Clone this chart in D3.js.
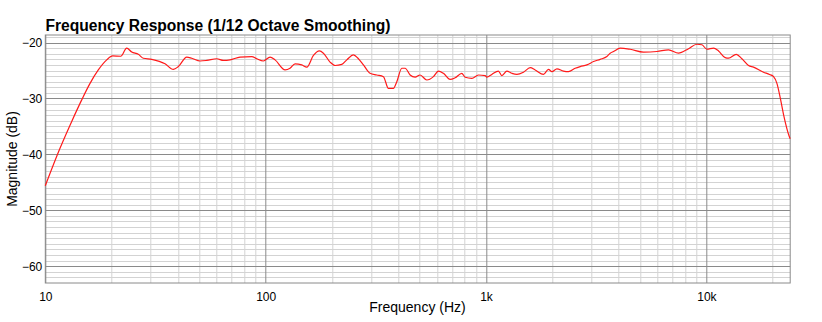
<!DOCTYPE html>
<html>
<head>
<meta charset="utf-8">
<script src="https://cdn.jsdelivr.net/npm/d3@7"></script>
<style>
  html, body { margin: 0; padding: 0; background: #fff; }
  svg { display: block; font-family: "Liberation Sans", Arial, Helvetica, sans-serif; }
</style>
</head>
<body>
<svg id="chart" width="822" height="322"></svg>
<script>
// ---- Data ----
const title = "Frequency Response (1/12 Octave Smoothing)";
const xLabel = "Frequency (Hz)";
const yLabel = "Magnitude (dB)";

const freqHz = [
  10, 11.66, 13.18, 14.63, 15.96, 17.4, 19.0, 20.22, 21.99, 23.42, 24.67, 26.43, 27.85, 30.41,
  34.95, 38.11, 40.15, 43.84, 46.18, 50.38, 54.03, 59.98, 64.27, 68.91, 76.52, 86.5, 91.1, 97.6,
  104.7, 110.3, 122.5, 129.0, 135.9, 145.8, 153.7, 164.7, 175.3, 182.8, 196.0, 206.5, 221.6,
  233.4, 250.1, 263.5, 277.7, 297.8, 319.4, 342.2, 360.6, 379.9, 393.6, 414.7, 429.3, 452.4,
  476.7, 502, 538.6, 577, 607.9, 640.7, 687, 724, 776, 804, 862, 924, 990.6, 1008, 1062, 1138,
  1179, 1243, 1310, 1380, 1479, 1586, 1671, 1822, 1920, 1990, 2097, 2246, 2366, 2538, 2675,
  2869, 3073, 3296, 3535, 3659, 3788, 4061, 4510, 5183, 5962, 6730, 7470, 8297, 9056, 9542,
  10050, 10770, 11350, 12170, 12600, 13660, 14490, 15530, 16360, 18160, 19340, 20170, 20890,
  21630, 22390, 23770, 24000
];
const magnitudeDb = [
  -45.6, -38.9, -34.1, -30.25, -27.3, -24.9, -23.1, -22.4, -22.45, -21.0, -21.7, -22.1, -22.8, -23.0,
  -23.8, -24.8, -24.3, -22.6, -22.8, -23.3, -23.2, -22.9, -23.2, -23.1, -22.6, -22.5, -22.9, -23.3,
  -22.6, -23.1, -24.9, -24.6, -23.8, -24.0, -24.4, -22.3, -21.5, -21.9, -23.5, -24.1, -23.9,
  -23.1, -22.2, -22.9, -24.0, -25.5, -25.8, -26.1, -28.2, -28.2, -27.0, -24.6, -24.6, -25.8,
  -26.2, -25.8, -26.7, -26.1, -25.1, -25.5, -26.6, -26.3, -25.5, -26.2, -26.4, -25.8, -25.9, -26.2, -25.7, -25.1,
  -25.9, -25.1, -25.5, -25.7, -25.3, -24.5, -24.9, -25.7, -24.8, -25.2, -24.7, -25.1, -25.2, -24.6, -24.3,
  -24.0, -23.4, -23.0, -22.5, -21.9, -21.6, -21.0, -21.2, -21.7, -21.6, -21.3, -21.9, -21.1, -20.3, -20.4,
  -21.2, -21.0, -21.5, -22.7, -22.8, -22.1, -22.9, -24.1, -24.4, -25.3, -25.7, -26.1, -27.3,
  -29.9, -32.9, -36.8, -37.2
];

const xTickValues = [10, 100, 1000, 10000];
const xTickLabels = ["10", "100", "1k", "10k"];
const yTickValues = [-60, -50, -40, -30, -20];
const xDomain = [10, 24000];
const yDomain = [-63, -18.65];

// ---- Layout ----
const svg = d3.select("#chart");
const margin = { left: 45.3, right: 822 - 790.2, top: 35, bottom: 322 - 283 };
const W = 822, H = 322;
const iw = W - margin.left - margin.right;
const ih = H - margin.top - margin.bottom;

const x = d3.scaleLog().domain(xDomain).range([0, iw]);
const y = d3.scaleLinear().domain(yDomain).range([ih, 0]);

const g = svg.append("g").attr("transform", `translate(${margin.left},${margin.top})`);

// minor grid values
const minorX = [];
for (let dec = 10; dec <= 10000; dec *= 10) {
  for (let m = 2; m <= 9; m++) {
    const v = dec * m;
    if (v < xDomain[1]) minorX.push(v);
  }
}
const minorY = d3.range(-62, -18, 1).filter(v => v % 10 !== 0);

// minor grid
g.append("g").attr("class", "minor-x")
  .selectAll("line").data(minorX).join("line")
  .attr("x1", d => Math.round(x(d)) + 0.5).attr("x2", d => Math.round(x(d)) + 0.5)
  .attr("y1", 0).attr("y2", ih)
  .attr("stroke", "#d3d3d3").attr("stroke-width", 1);
g.append("g").attr("class", "minor-y")
  .selectAll("line").data(minorY).join("line")
  .attr("x1", 0).attr("x2", iw)
  .attr("y1", d => Math.round(y(d)) + 0.5).attr("y2", d => Math.round(y(d)) + 0.5)
  .attr("stroke", "#d3d3d3").attr("stroke-width", 1);

// major grid
g.append("g").attr("class", "major-x")
  .selectAll("line").data(xTickValues).join("line")
  .attr("x1", d => Math.round(x(d)) + 0.5).attr("x2", d => Math.round(x(d)) + 0.5)
  .attr("y1", 0).attr("y2", ih)
  .attr("stroke", "#8a8a8a").attr("stroke-width", 1);
g.append("g").attr("class", "major-y")
  .selectAll("line").data(yTickValues).join("line")
  .attr("x1", 0).attr("x2", iw)
  .attr("y1", d => Math.round(y(d)) + 0.5).attr("y2", d => Math.round(y(d)) + 0.5)
  .attr("stroke", "#8a8a8a").attr("stroke-width", 1);

// frame
g.append("rect")
  .attr("x", 0).attr("y", 0).attr("width", iw).attr("height", ih)
  .attr("fill", "none").attr("stroke", "#8a8a8a").attr("stroke-width", 1);

// axes (labels only)
const xAxis = d3.axisBottom(x).tickValues(xTickValues)
  .tickFormat((d, i) => xTickLabels[i]).tickSize(0).tickPadding(9);
const gx = g.append("g").attr("transform", `translate(0,${ih})`).call(xAxis);
gx.select(".domain").remove();
gx.selectAll("text").attr("font-size", 12).attr("fill", "#000")
  .attr("font-family", "Liberation Sans, Arial, sans-serif");

const yAxis = d3.axisLeft(y).tickValues(yTickValues).tickSize(0).tickPadding(3)
  .tickFormat(d3.format("d"));
const gy = g.append("g").call(yAxis);
gy.select(".domain").remove();
gy.selectAll("text").attr("font-size", 12).attr("fill", "#000")
  .attr("font-family", "Liberation Sans, Arial, sans-serif");

// data line
const data = freqHz.map((f, i) => ({ f, m: magnitudeDb[i] }));
const line = d3.line().x(d => x(d.f)).y(d => y(d.m)).curve(d3.curveMonotoneX);
g.append("path").datum(data)
  .attr("d", line)
  .attr("fill", "none")
  .attr("stroke", "#ff1a1a")
  .attr("stroke-width", 1.2)
  .attr("stroke-linejoin", "round");

// title
svg.append("text")
  .attr("x", 45.5).attr("y", 30.5)
  .attr("font-size", 15.6).attr("font-weight", "bold")
  .attr("fill", "#000")
  .text(title);

// axis titles
svg.append("text")
  .attr("x", 417.5).attr("y", 311.5)
  .attr("text-anchor", "middle")
  .attr("font-size", 14).attr("fill", "#000")
  .text(xLabel);

svg.append("text")
  .attr("transform", `translate(17,159) rotate(-90)`)
  .attr("text-anchor", "middle")
  .attr("font-size", 14).attr("fill", "#000")
  .text(yLabel);
</script>
</body>
</html>
